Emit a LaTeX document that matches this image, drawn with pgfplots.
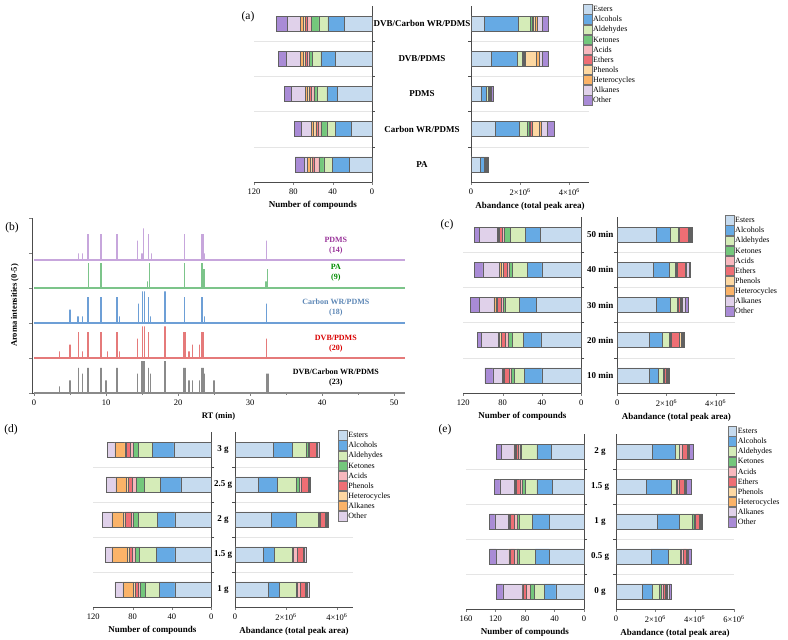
\documentclass[border=0pt]{standalone}
\usepackage{fontspec}
\setmainfont{Liberation Serif}
\usepackage{pgfplots}
\usepackage{pgfplotstable}
\pgfplotsset{compat=1.18}

\definecolor{aEsters}{HTML}{C6DBEF}
\definecolor{aAlcohols}{HTML}{66AAE4}
\definecolor{aAldehydes}{HTML}{D5ECB8}
\definecolor{aKetones}{HTML}{74C77C}
\definecolor{aAcids}{HTML}{F8B8BE}
\definecolor{aEthers}{HTML}{EE6E74}
\definecolor{aPhenols}{HTML}{FDD8A2}
\definecolor{aHeterocycles}{HTML}{FBB368}
\definecolor{aAlkanes}{HTML}{E0D1EA}
\definecolor{aOther}{HTML}{A98BD6}
% panel (d) uses a shifted palette
\colorlet{dEsters}{aEsters}
\colorlet{dAlcohols}{aAlcohols}
\colorlet{dAldehydes}{aAldehydes}
\colorlet{dKetones}{aKetones}
\colorlet{dAcids}{aAcids}
\colorlet{dPhenols}{aEthers}
\colorlet{dHeterocycles}{aPhenols}
\colorlet{dAlkanes}{aHeterocycles}
\colorlet{dOther}{aAlkanes}

\definecolor{cPDMS}{HTML}{C7A6DC}
\definecolor{cPA}{HTML}{7CC48A}
\definecolor{cCWR}{HTML}{6D9FD6}
\definecolor{cDVB}{HTML}{E57A7A}
\definecolor{cDCW}{HTML}{8A8A8A}

% ---- (a) fibre type
\pgfplotstableread{
cat Esters Alcohols Aldehydes Ketones Acids Ethers Phenols Heterocycles Alkanes Other
4 28 17 9 8 4 2 2 3 13 11
3 37 15 9 3 2 2 2 3 14 8
2 35 11 10 3 3 2 2 2 14 7
1 21 16 9 6 3 2 3 2 10 7
0 23 17 9 5 5 2 2 3 3 9
}\tabAL
\pgfplotstableread{
cat Esters Alcohols Aldehydes Ketones Acids Ethers Phenols Heterocycles Alkanes Other
4 0.55 1.38 0.48 0.08 0.03 0.02 0.08 0.08 0.20 0.26
3 0.82 1.08 0.17 0.07 0.04 0.04 0.42 0.15 0.10 0.27
2 0.41 0.22 0.07 0.03 0.02 0.03 0.01 0.02 0.03 0.07
1 0.98 0.99 0.30 0.11 0.05 0.05 0.30 0.06 0.25 0.31
0 0.39 0.13 0.04 0.02 0.02 0.02 0.01 0.01 0.01 0.06
}\tabAR
% ---- (c) extraction time
\pgfplotstableread{
cat Esters Alcohols Aldehydes Ketones Acids Ethers Phenols Heterocycles Alkanes Other
4 42 15 15 6 2 3 1 1 19 5
3 40 15 15 3 2 4 2 2 17 9
2 46 17 14 2 2 4 2 2 15 9
1 41 18 11 4 3 4 2 1 18 4
0 40 18 10 3 2 5 1 1 10 8
}\tabCL
\pgfplotstableread{
cat Esters Alcohols Aldehydes Ketones Acids Ethers Phenols Heterocycles Alkanes Other
4 1.57 0.59 0.31 0.03 0.03 0.37 0.03 0.02 0.04 0.05
3 1.46 0.65 0.24 0.03 0.05 0.33 0.03 0.03 0.10 0.06
2 1.57 0.59 0.26 0.03 0.04 0.08 0.04 0.05 0.12 0.10
1 1.28 0.56 0.27 0.03 0.04 0.33 0.08 0.04 0.06 0.05
0 1.30 0.36 0.20 0.03 0.03 0.08 0.02 0.02 0.03 0.05
}\tabCR
% ---- (d) sample amount
\pgfplotstableread{
cat Esters Alcohols Aldehydes Ketones Acids Phenols Heterocycles Alkanes Other
4 38 22 14 5 3 4 2 10 8
3 31 21 16 8 4 4 2 11 10
2 37 18 19 5 2 7 2 11 10
1 37 19 17 4 3 3 2 16 7
0 37 16 14 5 2 3 2 11 8
}\tabDL
\pgfplotstableread{
cat Esters Alcohols Aldehydes Ketones Acids Phenols Heterocycles Alkanes Other
4 1.50 0.75 0.56 0.06 0.06 0.24 0.03 0.03 0.07
3 0.92 0.75 0.75 0.09 0.10 0.27 0.02 0.02 0.05
2 1.44 0.98 0.85 0.04 0.05 0.17 0.04 0.03 0.06
1 1.11 0.43 0.72 0.03 0.17 0.22 0.02 0.02 0.06
0 1.31 0.43 0.65 0.07 0.09 0.19 0.04 0.05 0.08
}\tabDR
% ---- (e) NaCl amount
\pgfplotstableread{
cat Esters Alcohols Aldehydes Ketones Acids Ethers Phenols Heterocycles Alkanes Other
4 44 20 21 2 2 3 1 2 17 7
3 43 21 15 5 3 5 1 1 20 8
2 47 23 18 2 4 6 1 2 18 7
1 47 19 22 3 3 6 1 1 17 9
0 38 16 13 6 5 4 1 1 26 9
}\tabEL
\pgfplotstableread{
cat Esters Alcohols Aldehydes Ketones Acids Ethers Phenols Heterocycles Alkanes Other
4 1.83 1.16 0.21 0.03 0.14 0.25 0.03 0.02 0.04 0.20
3 1.52 1.30 0.26 0.05 0.10 0.24 0.04 0.03 0.04 0.27
2 2.09 1.11 0.68 0.08 0.09 0.17 0.04 0.04 0.03 0.06
1 1.78 0.90 0.60 0.05 0.09 0.17 0.04 0.03 0.02 0.17
0 1.35 0.48 0.39 0.07 0.10 0.12 0.04 0.04 0.10 0.10
}\tabER

\newcommand\stackbars[3]{%
  \pgfplotsinvokeforeach{#3}{\addplot[fill=#1##1] table[x=##1,y=cat]{#2};}}

\pgfplotsset{
  half/.style={scale only axis, width=118pt, height=176pt,
    font=\fontsize{8.5}{10}\selectfont,
    /pgf/number format/assume math mode=true,
    xbar stacked, bar width=15pt,
    ymin=-0.5, ymax=4.5, ytick={0,...,4},
    minor ytick={0.5,1.5,2.5,3.5}, yminorgrids,
    minor grid style={black!10, line width=0.5pt},
    major y tick style={draw=none},
    minor y tick style={black!70},
    tick align=outside, major tick length=3pt, minor tick length=3pt,
    axis line style={black!70, line width=0.6pt},
    every axis plot/.append style={draw=black!62, line width=0.5pt},
    xlabel style={font=\fontsize{9}{10}\selectfont\bfseries},
    clip=false},
  lhalf/.style={half, x dir=reverse, axis x line*=bottom, axis y line*=right,
    yticklabels={}, xmin=0, xmax=120, xtick={0,40,80,120},
    xlabel={Number of compounds}},
  rhalf/.style={half, axis x line*=bottom, axis y line*=left,
    xmin=0, xmax=4.8, xtick={0,2,4},
    xticklabels={0, 2×10\textsuperscript{6}, 4×10\textsuperscript{6}},
    xlabel={Abandance (total peak area)},
    yticklabel style={font=\fontsize{9}{10}\selectfont\bfseries, anchor=center},
    legend cell align=left,
    legend image code/.code={\draw[#1, draw=black!55] (0pt,-4.7pt) rectangle (8.5pt,4.7pt);},
    legend style={draw=none, fill=none, inner sep=0pt, row sep=0pt,
      font=\fontsize{8}{9}\selectfont,
      nodes={inner sep=1pt, text height=6.5pt, text depth=1.6pt}}},
}

\begin{document}
\begin{tikzpicture}[x=1pt,y=1pt]
\path[use as bounding box] (0pt,0pt) rectangle (788pt,640pt);

% ================= (a)
\begin{axis}[lhalf, at={(254pt,458pt)}]
\stackbars{a}{\tabAL}{Esters,Alcohols,Aldehydes,Ketones,Acids,Ethers,Phenols,Heterocycles,Alkanes,Other}
\end{axis}
\begin{axis}[rhalf, at={(471pt,458pt)},
  yticklabels={PA,Carbon WR/PDMS,PDMS,DVB/PDMS,DVB/Carbon WR/PDMS},
  yticklabel style={xshift=-46pt},
  legend style={at={(0.949,1.011)}, anchor=north west}]
\stackbars{a}{\tabAR}{Esters,Alcohols,Aldehydes,Ketones,Acids,Ethers,Phenols,Heterocycles,Alkanes,Other}
\legend{Esters,Alcohols,Aldehydes,Ketones,Acids,Ethers,Phenols,Heterocycles,Alkanes,Other}
\end{axis}

% ================= (b)
\begin{axis}[scale only axis, at={(32pt,247pt)}, width=373pt, height=175pt,
  font=\fontsize{8.5}{10}\selectfont,
  /pgf/number format/assume math mode=true,
  xmin=-0.28, xmax=51.5, ymin=0, ymax=5,
  axis x line*=bottom, axis y line*=left,
  axis line style={black!70, line width=0.6pt},
  xtick={0,10,...,50}, minor xtick={5,15,...,45},
  ytick={0,...,5}, yticklabels={},
  tick align=outside, major tick length=3pt, minor tick length=2pt,
  xlabel={RT (min)}, ylabel={Aroma intensities (0-5)},
  xlabel style={font=\fontsize{8.5}{10}\selectfont\bfseries},
  ylabel style={font=\fontsize{8.5}{10}\selectfont\bfseries},
  every axis plot/.append style={line width=1.3pt, line join=bevel},
  clip=false]
\addplot[cPDMS] coordinates {(0,3.8)
 (6.2,3.8)(6.2,3.99)(6.2,3.8) (6.7,3.8)(6.7,3.99)(6.7,3.8)
 (7.5,3.8)(7.5,4.54)(7.5,3.8) (9.3,3.8)(9.3,4.54)(9.3,3.8)
 (11.5,3.8)(11.5,4.54)(11.5,3.8) (14.4,3.8)(14.4,4.35)(14.4,3.8)
 (15.0,3.8)(15.0,3.99)(15.0,3.8) (15.2,3.8)(15.2,4.70)(15.2,3.8)
 (15.9,3.8)(15.9,4.54)(15.9,3.8) (16.3,3.8)(16.3,3.99)(16.3,3.8)
 (20.9,3.8)(20.9,4.54)(20.9,3.8) (23.3,3.8)(23.3,4.54)(23.3,3.8)
 (23.5,3.8)(23.5,4.54)(23.5,3.8) (23.7,3.8)(23.7,3.99)(23.7,3.8)
 (32.3,3.8)(32.3,4.35)(32.3,3.8) (51.5,3.8)};
\addplot[cPA] coordinates {(0,3)
 (7.6,3)(7.6,3.71)(7.6,3) (9.3,3)(9.3,3.71)(9.3,3)
 (15.8,3)(15.8,3.19)(15.8,3) (16.0,3)(16.0,3.71)(16.0,3)
 (20.9,3)(20.9,3.71)(20.9,3) (23.3,3)(23.3,3.71)(23.3,3)
 (23.6,3)(23.6,3.54)(23.6,3) (32.2,3)(32.2,3.19)(32.2,3)
 (32.4,3)(32.4,3.54)(32.4,3) (51.5,3)};
\addplot[cCWR] coordinates {(0,2)
 (5.0,2)(5.0,2.38)(5.0,2) (6.1,2)(6.1,2.19)(6.1,2) (6.7,2)(6.7,2.19)(6.7,2)
 (7.5,2)(7.5,2.74)(7.5,2) (9.3,2)(9.3,2.74)(9.3,2) (11.5,2)(11.5,2.74)(11.5,2)
 (11.9,2)(11.9,2.19)(11.9,2) (14.5,2)(14.5,2.55)(14.5,2)
 (15.1,2)(15.1,2.9)(15.1,2) (15.3,2)(15.3,2.9)(15.3,2)
 (15.9,2)(15.9,2.74)(15.9,2) (16.2,2)(16.2,2.19)(16.2,2)
 (18.2,2)(18.2,2.9)(18.2,2) (20.9,2)(20.9,2.74)(20.9,2)
 (23.3,2)(23.3,2.74)(23.3,2) (23.7,2)(23.7,2.19)(23.7,2)
 (32.3,2)(32.3,2.55)(32.3,2) (51.5,2)};
\addplot[cDVB] coordinates {(0,1)
 (3.5,1)(3.5,1.19)(3.5,1) (5.0,1)(5.0,1.38)(5.0,1) (6.2,1)(6.2,1.74)(6.2,1)
 (6.7,1)(6.7,1.19)(6.7,1) (7.5,1)(7.5,1.74)(7.5,1) (9.3,1)(9.3,1.74)(9.3,1)
 (10.2,1)(10.2,1.19)(10.2,1) (11.5,1)(11.5,1.74)(11.5,1) (11.9,1)(11.9,1.19)(11.9,1)
 (14.4,1)(14.4,1.55)(14.4,1) (15.1,1)(15.1,1.9)(15.1,1) (15.3,1)(15.3,1.9)(15.3,1)
 (15.9,1)(15.9,1.74)(15.9,1) (18.2,1)(18.2,1.9)(18.2,1)
 (20.8,1)(20.8,1.74)(20.8,1) (20.95,1)(20.95,1.74)(20.95,1)
 (21.5,1)(21.5,1.19)(21.5,1) (22.0,1)(22.0,1.38)(22.0,1)
 (23.0,1)(23.0,1.38)(23.0,1) (23.3,1)(23.3,1.74)(23.3,1) (23.5,1)(23.5,1.74)(23.5,1)
 (32.3,1)(32.3,1.55)(32.3,1) (51.5,1)};
\addplot[cDCW] coordinates {(0,0)
 (3.5,0)(3.5,0.19)(3.5,0) (5.0,0)(5.0,0.36)(5.0,0) (6.2,0)(6.2,0.72)(6.2,0)
 (6.7,0)(6.7,0.55)(6.7,0) (7.5,0)(7.5,0.72)(7.5,0) (9.3,0)(9.3,0.72)(9.3,0)
 (10.0,0)(10.0,0.36)(10.0,0) (11.5,0)(11.5,0.72)(11.5,0) (14.4,0)(14.4,0.55)(14.4,0)
 (15.0,0)(15.0,0.91)(15.0,0) (15.15,0)(15.15,0.91)(15.15,0) (15.3,0)(15.3,0.91)(15.3,0)
 (15.9,0)(15.9,0.72)(15.9,0) (16.2,0)(16.2,0.55)(16.2,0) (18.2,0)(18.2,0.91)(18.2,0)
 (20.8,0)(20.8,0.72)(20.8,0) (20.95,0)(20.95,0.72)(20.95,0)
 (21.5,0)(21.5,0.36)(21.5,0) (22.0,0)(22.0,0.36)(22.0,0) (23.0,0)(23.0,0.36)(23.0,0)
 (23.3,0)(23.3,0.72)(23.3,0) (23.5,0)(23.5,0.72)(23.5,0) (23.7,0)(23.7,0.55)(23.7,0)
 (25.0,0)(25.0,0.36)(25.0,0) (32.3,0)(32.3,0.55)(32.3,0) (32.5,0)(32.5,0.55)(32.5,0)
 (51.5,0)};
\begin{scope}[font=\fontsize{8}{10}\selectfont\bfseries]
\node[align=center, text=violet!80!white] at (axis cs:41.9,4.2) {PDMS\\(14)};
\node[align=center, text=green!55!black] at (axis cs:41.9,3.43) {PA\\(9)};
\node[align=center, text=cCWR!85!black] at (axis cs:41.9,2.43) {Carbon WR/PDMS\\(18)};
\node[align=center, text=red!85!black] at (axis cs:41.9,1.4) {DVB/PDMS\\(20)};
\node[align=center, text=black] at (axis cs:41.9,0.45) {DVB/Carbon WR/PDMS\\(23)};
\end{scope}
\end{axis}

% ================= (c)
\begin{axis}[lhalf, at={(463.3pt,247pt)}]
\stackbars{a}{\tabCL}{Esters,Alcohols,Aldehydes,Ketones,Acids,Ethers,Phenols,Heterocycles,Alkanes,Other}
\end{axis}
\begin{axis}[rhalf, at={(617.3pt,247pt)},
  yticklabels={10 min,20 min,30 min,40 min,50 min},
  yticklabel style={xshift=-14pt},
  legend style={at={(0.913,1.011)}, anchor=north west}]
\stackbars{a}{\tabCR}{Esters,Alcohols,Aldehydes,Ketones,Acids,Ethers,Phenols,Heterocycles,Alkanes,Other}
\legend{Esters,Alcohols,Aldehydes,Ketones,Acids,Ethers,Phenols,Heterocycles,Alkanes,Other}
\end{axis}

% ================= (d)
\begin{axis}[lhalf, at={(93.3pt,33pt)}, height=175pt]
\stackbars{d}{\tabDL}{Esters,Alcohols,Aldehydes,Ketones,Acids,Phenols,Heterocycles,Alkanes,Other}
\end{axis}
\begin{axis}[rhalf, at={(235pt,33pt)}, height=175pt, xmax=4.63,
  yticklabels={1 g,1.5 g,2 g,2.5 g,3 g},
  yticklabel style={xshift=-9pt},
  legend style={at={(0.875,1.011)}, anchor=north west}]
\stackbars{d}{\tabDR}{Esters,Alcohols,Aldehydes,Ketones,Acids,Phenols,Heterocycles,Alkanes,Other}
\legend{Esters,Alcohols,Aldehydes,Ketones,Acids,Phenols,Heterocycles,Alkanes,Other}
\end{axis}

% ================= (e)
\begin{axis}[lhalf, at={(466pt,31pt)}, height=175pt, xmax=160, xtick={0,40,...,160}]
\stackbars{a}{\tabEL}{Esters,Alcohols,Aldehydes,Ketones,Acids,Ethers,Phenols,Heterocycles,Alkanes,Other}
\end{axis}
\begin{axis}[rhalf, at={(616pt,31pt)}, height=175pt, xmax=6, xtick={0,2,4,6},
  xticklabels={0, 2×10\textsuperscript{6}, 4×10\textsuperscript{6}, 6×10\textsuperscript{6}},
  yticklabels={0 g,0.5 g,1 g,1.5 g,2 g},
  yticklabel style={xshift=-13pt},
  legend style={at={(0.946,1.046)}, anchor=north west}]
\stackbars{a}{\tabER}{Esters,Alcohols,Aldehydes,Ketones,Acids,Ethers,Phenols,Heterocycles,Alkanes,Other}
\legend{Esters,Alcohols,Aldehydes,Ketones,Acids,Ethers,Phenols,Heterocycles,Alkanes,Other}
\end{axis}

% panel letters
\begin{scope}[font=\fontsize{11.5}{12}\selectfont]
\node at (248pt,623pt) {(a)};
\node at (12pt,412pt) {(b)};
\node at (447pt,415pt) {(c)};
\node at (11pt,210pt) {(d)};
\node at (445pt,210pt) {(e)};
\end{scope}
\end{tikzpicture}
\end{document}
